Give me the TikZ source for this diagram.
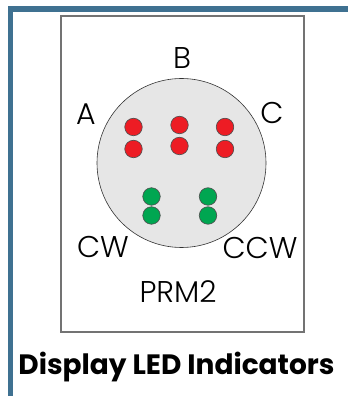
\documentclass[tikz,border=0pt]{standalone}
\usepackage{fontspec}
\setmainfont{Poppins}
\newfontfamily\labfont{Poppins Light}
\definecolor{barblue}{RGB}{63,113,145}
\definecolor{ledred}{RGB}{237,28,36}
\definecolor{ledgreen}{RGB}{0,166,81}
\definecolor{facegray}{RGB}{230,230,230}
\begin{document}
\begin{tikzpicture}[x=1pt,y=1pt,
  led/.style={circle,draw=black!70,line width=0.6pt,minimum size=17.5pt,inner sep=0pt},
  redled/.style={led,fill=ledred},
  greenled/.style={led,fill=ledgreen},
  lab/.style={font=\labfont\fontsize{30}{30}\selectfont,inner sep=0pt}]
\useasboundingbox (0,0) rectangle (348,396);
% blue frame
\fill[barblue] (7.5,0) rectangle (13,390);
\fill[barblue] (7.5,384) rectangle (348,390);
% panel
\node[draw=black!55,line width=1.1pt,minimum width=243pt,minimum height=316pt,inner sep=0pt] (panel) at (182.5,222) {};
% face
\node[circle,draw=black!80,line width=0.6pt,fill=facegray,minimum size=169pt,inner sep=0pt] (face) at (181.5,233) {};
% red LEDs
\node[redled] (a1) at (133.5,269) {};
\node[redled] (a2) at (133.5,247) {};
\node[redled] (b1) at (179.5,271) {};
\node[redled] (b2) at (179.5,250) {};
\node[redled] (c1) at (225,269) {};
\node[redled] (c2) at (225,247) {};
% green LEDs
\node[greenled] (cw1) at (151.5,199.5) {};
\node[greenled] (cw2) at (151.5,180.5) {};
\node[greenled] (ccw1) at (208,199.5) {};
\node[greenled] (ccw2) at (208,180.5) {};
% labels
\node[lab] (lB) at (182,338) {B};
\node[lab] (lA) at (86,282) {A};
\node[lab] (lC) at (272,283) {C};
\node[lab] (lCW) at (103,149) {CW};
\node[lab] (lCCW) at (260,148) {CCW};
\node[lab] (lPRM) at (178,104) {PRM2};
% title
\node[font=\bfseries\fontsize{28}{28}\selectfont,inner sep=0pt] (title) at (176.5,29) {Display LED Indicators};
\end{tikzpicture}
\end{document}
